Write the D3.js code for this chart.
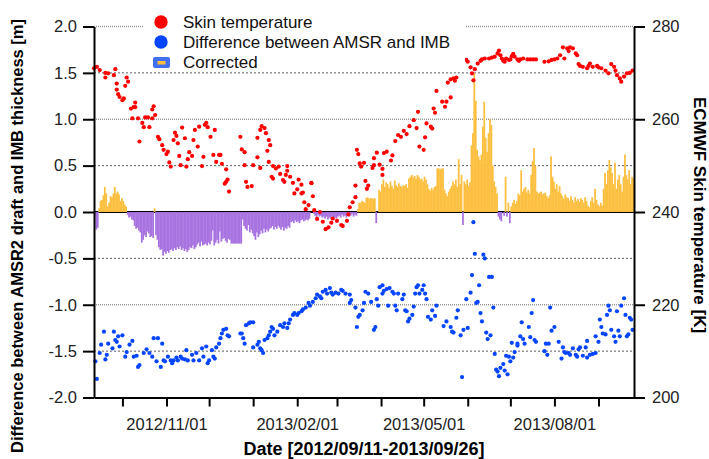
<!DOCTYPE html>
<html lang="en">
<head>
<meta charset="UTF-8">
<title>AMSR2 draft vs IMB thickness</title>
<style>
  body { margin: 0; background: #fff; }
  svg { display: block; font-family: Arial, "Liberation Sans", sans-serif; }
</style>
</head>
<body>
<svg id="svg" width="709" height="459"></svg>
<script src="https://d3js.org/d3.v7.min.js"></script>
<script>
// period covered, days below are counted from startDate
const startDate = new Date(Date.UTC(2012, 8, 11))
const endDate = new Date(Date.UTC(2013, 8, 26))

const leftTicks = [-2, -1.5, -1, -0.5, 0, 0.5, 1, 1.5, 2]
const rightTicks = [200, 220, 240, 260, 280]
const labelledMonths = ['2012/11/01', '2013/02/01', '2013/05/01', '2013/08/01']

// ECMWF skin temperature [K] : [day, value]
const skinTemp = [[0,271.0],[2,271.3],[4,270.6],[8,270.0],[8,269.0],[10,269.9],[14,269.5],[15,270.8],[16,267.7],[16,266.4],[17,265.4],[18,264.8],[20,264.1],[21,264.5],[22,267.2],[23,269.0],[24,268.1],[26,262.3],[27,260.2],[28,262.6],[29,263.6],[29,262.6],[31,260.2],[32,255.2],[34,259.2],[35,258.3],[36,260.4],[38,260.4],[39,258.3],[41,260.2],[41,262.1],[42,262.8],[43,260.9],[45,256.2],[46,255.7],[48,254.4],[49,253.4],[51,252.5],[52,253.0],[53,250.7],[54,249.8],[56,255.5],[57,257.1],[58,256.4],[59,254.8],[60,252.1],[61,250.1],[62,258.2],[64,255.9],[65,249.8],[66,251.4],[67,252.9],[69,252.1],[70,255.5],[71,257.7],[73,254.1],[74,258.4],[76,249.9],[77,251.9],[78,258.8],[79,259.2],[80,258.3],[82,256.2],[84,252.3],[85,257.7],[86,250.8],[88,252.3],[89,252.3],[90,250.4],[92,246.1],[93,246.5],[93,249.2],[94,247.0],[95,244.4],[103,256.2],[104,253.5],[106,252.9],[106,250.1],[107,246.5],[108,245.4],[111,245.6],[112,250.1],[115,251.8],[115,256.0],[117,249.5],[117,257.7],[118,258.5],[120,258.1],[121,257.0],[122,253.2],[123,250.8],[123,255.5],[124,254.4],[125,247.6],[126,249.9],[126,247.2],[128,249.4],[130,249.8],[131,248.2],[133,246.9],[134,246.5],[135,248.0],[136,249.9],[136,248.9],[138,247.6],[140,246.3],[141,244.0],[143,244.9],[144,247.0],[146,244.0],[146,245.9],[147,244.2],[148,242.1],[149,240.6],[151,241.5],[153,246.3],[153,246.2],[154,243.4],[155,240.4],[157,238.5],[159,240.0],[161,237.9],[163,236.3],[165,236.7],[167,237.7],[168,238.6],[171,238.1],[174,237.2],[175,237.0],[178,238.1],[179,239.5],[180,241.0],[182,242.1],[184,243.2],[184,245.7],[185,253.4],[186,252.5],[187,250.5],[188,249.8],[190,250.6],[191,246.7],[192,245.0],[193,245.7],[196,249.5],[197,250.1],[197,251.6],[199,252.8],[201,250.2],[203,249.3],[203,248.0],[204,252.7],[206,253.0],[209,251.1],[210,252.2],[212,255.3],[214,256.6],[216,256.2],[218,257.5],[220,256.8],[222,258.5],[225,259.8],[227,258.1],[228,261.6],[229,254.1],[232,253.4],[233,256.1],[234,259.1],[237,258.4],[238,258.0],[239,262.3],[240,261.4],[241,266.1],[245,263.8],[247,262.7],[248,263.8],[249,267.9],[251,264.7],[251,268.6],[253,268.8],[254,268.3],[255,269.0],[260,272.8],[262,272.8],[263,272.4],[265,271.2],[266,269.9],[267,268.4],[268,270.8],[270,272.0],[272,272.6],[273,272.9],[275,273.1],[278,273.1],[280,273.3],[282,273.5],[284,274.2],[285,274.8],[286,273.8],[287,273.1],[288,272.6],[289,272.4],[290,273.1],[292,272.8],[293,272.9],[294,273.6],[295,274.1],[296,273.5],[298,272.9],[299,272.6],[300,272.9],[302,273.1],[305,272.9],[307,272.9],[309,272.9],[311,272.9],[317,272.4],[320,272.5],[322,272.8],[324,272.9],[326,273.1],[328,273.8],[330,275.5],[331,273.1],[333,275.3],[334,274.7],[335,275.5],[337,275.3],[339,274.2],[340,273.8],[341,271.9],[342,271.5],[344,271.3],[347,271.0],[348,271.5],[349,272.0],[351,271.3],[354,271.5],[355,271.2],[357,271.0],[360,270.5],[362,269.9],[364,271.9],[366,271.3],[367,270.5],[368,269.5],[370,268.8],[371,268.1],[373,269.2],[375,269.9],[377,270.0],[379,270.5]]

// difference between AMSR2 draft and IMB thickness [m] : [day, value]
const difference = [[1,-1.61],[2,-1.80],[4,-1.52],[5,-1.43],[7,-1.29],[8,-1.59],[9,-1.54],[10,-1.42],[13,-1.47],[14,-1.29],[15,-1.38],[16,-1.40],[17,-1.34],[18,-1.45],[20,-1.33],[22,-1.56],[23,-1.51],[25,-1.43],[27,-1.39],[28,-1.56],[30,-1.55],[31,-1.67],[32,-1.65],[35,-1.52],[37,-1.48],[39,-1.52],[41,-1.56],[42,-1.36],[44,-1.61],[45,-1.36],[47,-1.67],[48,-1.42],[49,-1.60],[50,-1.61],[52,-1.56],[54,-1.60],[55,-1.63],[56,-1.60],[58,-1.57],[59,-1.60],[61,-1.56],[62,-1.58],[64,-1.59],[65,-1.49],[66,-1.60],[69,-1.54],[70,-1.60],[72,-1.52],[74,-1.60],[76,-1.47],[77,-1.56],[79,-1.45],[80,-1.63],[81,-1.60],[83,-1.49],[84,-1.56],[85,-1.58],[86,-1.46],[88,-1.42],[89,-1.36],[90,-1.31],[91,-1.27],[93,-1.26],[94,-1.33],[95,-1.34],[103,-1.31],[104,-1.31],[105,-1.36],[106,-1.42],[107,-1.22],[109,-1.20],[110,-1.19],[112,-1.19],[112,-1.46],[115,-1.43],[116,-1.40],[117,-1.47],[118,-1.49],[119,-1.52],[120,-1.38],[122,-1.36],[123,-1.33],[124,-1.29],[125,-1.24],[126,-1.26],[127,-1.33],[129,-1.29],[131,-1.22],[133,-1.24],[134,-1.20],[136,-1.25],[137,-1.20],[138,-1.16],[140,-1.11],[141,-1.09],[143,-1.11],[144,-1.09],[146,-1.07],[147,-1.05],[149,-1.03],[151,-0.98],[152,-1.01],[154,-0.97],[156,-0.93],[157,-0.89],[159,-0.91],[160,-0.93],[161,-0.86],[163,-0.84],[164,-0.88],[166,-0.82],[167,-0.87],[168,-0.89],[170,-0.87],[172,-0.88],[174,-0.84],[175,-0.85],[177,-0.88],[180,-0.98],[180,-0.89],[181,-0.95],[184,-1.03],[185,-1.24],[186,-1.13],[187,-1.11],[189,-1.06],[190,-0.98],[191,-0.86],[193,-0.88],[195,-0.97],[197,-1.27],[198,-1.24],[199,-0.94],[200,-1.01],[201,-0.81],[203,-0.79],[203,-0.88],[204,-0.85],[206,-0.83],[207,-1.01],[208,-0.82],[210,-0.86],[211,-0.88],[212,-1.01],[213,-1.06],[214,-0.88],[217,-0.94],[218,-0.89],[219,-1.06],[220,-1.07],[221,-1.18],[222,-1.15],[224,-1.11],[225,-1.02],[226,-0.88],[227,-0.81],[228,-0.79],[229,-0.88],[231,-0.84],[232,-0.79],[233,-0.88],[234,-0.94],[235,-1.13],[237,-1.16],[238,-1.06],[240,-1.12],[241,-1.01],[246,-1.23],[248,-1.18],[251,-1.24],[252,-1.29],[253,-1.30],[255,-1.14],[256,-1.06],[258,-1.33],[259,-1.78],[260,-1.27],[262,-0.94],[263,-1.25],[265,-0.87],[266,-0.68],[267,-0.11],[268,-0.45],[269,-0.98],[270,-0.97],[271,-0.79],[272,-1.09],[273,-1.18],[274,-0.46],[275,-0.50],[276,-1.30],[277,-1.37],[278,-0.70],[279,-1.33],[280,-0.70],[281,-1.03],[282,-1.53],[283,-1.70],[284,-1.72],[285,-1.77],[286,-1.68],[288,-1.64],[289,-1.71],[290,-1.55],[291,-1.75],[292,-1.56],[293,-1.61],[294,-1.41],[295,-1.57],[296,-1.51],[298,-1.42],[298,-1.44],[300,-1.34],[301,-1.19],[302,-1.37],[303,-1.42],[306,-1.24],[307,-1.35],[308,-1.09],[309,-0.95],[310,-1.38],[311,-1.40],[317,-1.50],[318,-1.42],[319,-1.54],[320,-1.42],[321,-1.03],[322,-1.28],[324,-1.24],[327,-1.40],[329,-1.58],[330,-1.46],[331,-1.51],[332,-1.52],[334,-1.52],[335,-1.54],[337,-1.47],[339,-1.54],[340,-1.56],[341,-1.48],[342,-1.46],[344,-1.55],[346,-1.46],[347,-1.39],[347,-1.57],[349,-1.54],[351,-1.53],[353,-1.52],[353,-1.34],[355,-1.40],[356,-1.16],[357,-1.24],[358,-1.31],[360,-1.32],[361,-1.11],[362,-1.01],[363,-1.06],[364,-1.27],[366,-1.34],[367,-1.40],[368,-1.07],[369,-1.28],[370,-1.34],[371,-1.01],[373,-0.93],[374,-1.11],[375,-1.34],[376,-1.32],[377,-1.14],[378,-1.16],[379,-1.27]]

// corrected difference [m], one value per day from startDate
const corrected = [
  -0.05,-0.19,-0.17,0.04,0.12,0.13,0.18,0.27,0.2,0.06,
  0.1,0.17,0.16,0.2,0.27,0.2,0.22,0.19,0.12,0.15,
  0.12,0.08,0.06,-0.03,-0.06,-0.05,-0.08,-0.09,-0.15,-0.18,
  -0.17,-0.2,-0.22,-0.33,-0.3,-0.25,-0.27,-0.21,-0.23,-0.27,
  -0.26,-0.28,0.04,-0.25,-0.3,-0.38,-0.41,-0.4,-0.47,-0.43,
  -0.45,-0.42,-0.44,-0.41,-0.4,-0.42,-0.39,-0.41,-0.38,-0.4,
  -0.37,-0.41,-0.39,-0.42,-0.4,-0.43,-0.41,-0.38,-0.39,-0.36,
  -0.4,-0.38,-0.35,-0.33,-0.37,-0.32,-0.36,-0.35,-0.34,-0.36,
  -0.33,-0.35,-0.31,-0.2,-0.36,-0.33,-0.3,-0.34,-0.21,-0.32,
  -0.29,-0.28,-0.31,-0.33,-0.29,-0.3,-0.34,-0.34,-0.34,-0.34,
  -0.34,-0.34,-0.34,-0.34,-0.08,-0.15,-0.18,-0.2,-0.14,-0.22,
  -0.19,-0.23,-0.26,-0.3,-0.22,-0.27,-0.24,-0.2,-0.23,-0.18,
  -0.22,-0.19,-0.21,-0.18,-0.17,-0.15,-0.19,-0.16,-0.18,-0.15,
  -0.17,-0.19,-0.16,-0.2,-0.17,-0.18,-0.15,-0.17,-0.11,-0.1,
  -0.12,-0.09,-0.11,-0.1,-0.12,-0.09,-0.08,-0.1,-0.09,-0.08,
  -0.09,-0.07,0,0,-0.02,-0.04,-0.06,-0.03,-0.05,-0.04,
  -0.06,-0.05,-0.07,-0.05,-0.08,-0.06,-0.07,-0.05,-0.08,-0.06,
  -0.07,-0.05,-0.04,-0.06,-0.03,-0.05,-0.04,-0.06,-0.03,-0.05,
  -0.04,-0.02,-0.05,-0.03,-0.04,0.03,0.1,0.1,0.12,0.11,
  0.1,0.15,0.16,0.14,0.15,0.15,0.14,0.15,-0.12,0,
  0.24,0.22,0.3,0.35,0.27,0.32,0.3,0.26,0.33,0.28,
  0.25,0.34,0.29,0.27,0.31,0.28,0.27,0.29,0.28,0.3,
  0.26,0.36,0.38,0.4,0.37,0.39,0.36,0.4,0.38,0.35,
  0.36,0.33,0.38,0.35,0.3,0.25,0.23,0.26,0.24,0.27,
  0.28,0.47,0.47,0.46,0.47,0.47,0.24,0.2,0.17,0.22,
  0.25,0.28,0.33,0.3,0.35,0.27,0.57,0.3,0.4,-0.14,
  0.33,0.3,0.35,0.28,0.32,0.72,0.85,1.5,1.2,0.67,
  0.6,0.56,0.62,0.92,1.19,0.8,0.65,0.85,1.0,0.94,
  0.5,0.33,0.27,0.2,-0.05,-0.08,-0.1,0,-0.04,0.38,
  -0.05,0.1,-0.12,0.06,0.1,0.13,0.09,0.12,0.2,0.18,
  0.45,0.22,0.25,0.27,0.21,0.24,0.2,0.4,0.55,0.69,
  0.5,0.22,0.2,0.21,0.22,0.19,0.2,0.21,0.17,0.15,
  0.18,0.6,0.38,0.33,0.25,0.3,0.22,0.28,0.2,0.17,
  0.14,0.19,0.16,0.15,0.12,0.17,0.13,0.1,0.16,0.12,
  0.14,0.11,0.15,0.13,0.1,0.16,0.12,0.07,0.05,0.12,
  0.16,0.1,0.25,0.13,0.08,0.06,0.1,0.07,0.25,0.42,
  0.3,0.45,0.56,0.48,0.42,0.3,0.53,0.25,0.35,0.4,
  0.3,0.22,0.38,0.62,0.4,0.35,0.45,0.3,0.38,0.36
]

const day = i => d3.utcDay.offset(startDate, i)

const plotLeft = 94, plotRight = 634, plotTop = 26.5, plotBottom = 397.5
const x = d3.scaleUtc().domain([startDate, endDate]).range([plotLeft, plotRight])
const yL = d3.scaleLinear().domain([-2, 2]).range([plotBottom, plotTop])
const yR = d3.scaleLinear().domain([200, 280]).range([plotBottom, plotTop])

const svg = d3.select('#svg')

// gridlines
svg.append('g')
  .selectAll('line')
  .data(leftTicks.filter(d => d !== 0 && d !== -2))
  .enter()
  .append('line')
  .attr('x1', plotLeft).attr('x2', plotRight)
  .attr('y1', d => yL(d)).attr('y2', d => yL(d))
  .attr('stroke', d => Number.isInteger(d) ? '#999' : '#333')
  .attr('stroke-width', d => Number.isInteger(d) ? 1.3 : 0.8)
  .attr('stroke-dasharray', d => Number.isInteger(d) ? '1,1' : '2,2')

// zero line
svg.append('line')
  .attr('x1', plotLeft).attr('x2', plotRight)
  .attr('y1', yL(0)).attr('y2', yL(0))
  .attr('stroke', '#000').attr('stroke-width', 2)

// corrected bars (slight overlap so neighbouring days don't show hairline gaps)
svg.append('g')
  .selectAll('rect')
  .data(corrected)
  .enter()
  .append('rect')
  .attr('x', (d, i) => x(day(i)))
  .attr('width', (d, i) => x(day(i + 1)) - x(day(i)) + 0.35)
  .attr('y', d => yL(Math.max(d, 0)))
  .attr('height', d => Math.abs(yL(d) - yL(0)))
  .attr('fill', d => d >= 0 ? '#fdbf40' : '#a873e0')

// blue dots
svg.append('g')
  .selectAll('circle')
  .data(difference)
  .enter()
  .append('circle')
  .attr('cx', d => x(day(d[0])))
  .attr('cy', d => yL(d[1]))
  .attr('r', 2.1)
  .attr('fill', '#0645ff')

// red dots
svg.append('g')
  .selectAll('circle')
  .data(skinTemp)
  .enter()
  .append('circle')
  .attr('cx', d => x(day(d[0])))
  .attr('cy', d => yR(d[1]))
  .attr('r', 2.1)
  .attr('fill', '#ff0000')

// legend
const legend = svg.append('g')
legend.append('rect').attr('x', 143).attr('y', 3).attr('width', 322).attr('height', 67).attr('fill', '#fff')
legend.append('circle').attr('cx', 161).attr('cy', 22).attr('r', 6.7).attr('fill', '#ff0000')
legend.append('circle').attr('cx', 161).attr('cy', 42).attr('r', 6.7).attr('fill', '#0645ff')
legend.append('rect').attr('x', 153).attr('y', 57).attr('width', 17).attr('height', 11).attr('rx', 2).attr('fill', '#4070f0')
legend.append('rect').attr('x', 157.5).attr('y', 61).attr('width', 8).attr('height', 3.5).attr('fill', '#fdbf40')
const legendText = ['Skin temperature', 'Difference between AMSR and IMB', 'Corrected']
legend.selectAll('text')
  .data(legendText)
  .enter()
  .append('text')
  .attr('x', 183)
  .attr('y', (d, i) => 27.5 + i * 20)
  .attr('font-size', 17)
  .attr('fill', '#111')
  .text(d => d)

// axes
const styleAxis = g => {
  g.selectAll('path').attr('stroke', '#000').attr('stroke-width', 2)
  g.selectAll('line').attr('stroke', '#000').attr('stroke-width', 2)
  g.selectAll('text').attr('font-size', 16.5).attr('fill', '#222').attr('font-family', 'Arial, "Liberation Sans", sans-serif')
}

svg.append('g')
  .attr('transform', `translate(${plotLeft}, 0)`)
  .call(d3.axisLeft(yL).tickValues(leftTicks).tickFormat(d => d.toFixed(1)).tickSize(11).tickSizeOuter(0).tickPadding(6))
  .call(styleAxis)

svg.append('g')
  .attr('transform', `translate(${plotRight}, 0)`)
  .call(d3.axisRight(yR).tickValues(rightTicks).tickSize(11).tickSizeOuter(0).tickPadding(7))
  .call(styleAxis)

const fmt = d3.utcFormat('%Y/%m/%d')
svg.append('g')
  .attr('transform', `translate(0, ${plotBottom})`)
  .call(d3.axisBottom(x).ticks(d3.utcMonth.every(1)).tickSize(9).tickSizeOuter(0).tickPadding(12)
    .tickFormat(d => labelledMonths.includes(fmt(d)) ? fmt(d) : ''))
  .call(styleAxis)

// titles
svg.append('text')
  .attr('x', 364).attr('y', 455)
  .attr('text-anchor', 'middle')
  .attr('font-size', 18).attr('font-weight', 'bold')
  .text('Date [2012/09/11-2013/09/26]')

svg.append('text')
  .attr('transform', 'translate(23, 236) rotate(-90)')
  .attr('text-anchor', 'middle')
  .attr('font-size', 16.5).attr('font-weight', 'bold')
  .text('Difference between AMSR2 draft and IMB thickness [m]')

svg.append('text')
  .attr('transform', 'translate(694, 215) rotate(90)')
  .attr('text-anchor', 'middle')
  .attr('font-size', 17).attr('font-weight', 'bold')
  .text('ECMWF Skin temperature [K]')
</script>
</body>
</html>
